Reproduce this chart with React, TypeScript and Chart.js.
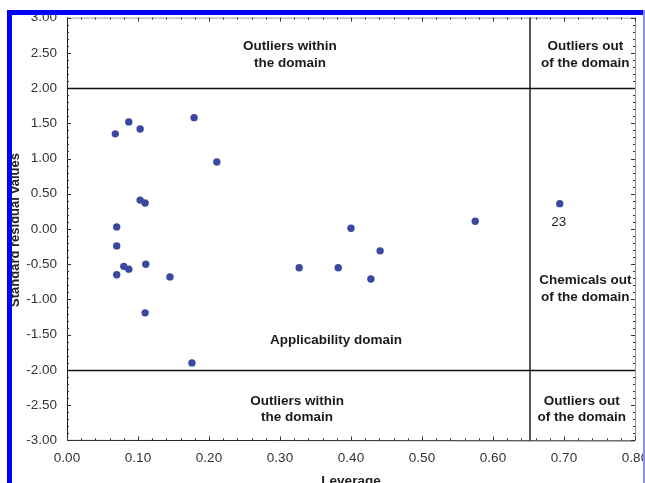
import React, { useEffect, useRef } from "react";
import { Chart, registerables } from "chart.js";

Chart.register(...registerables);

// Leverage (x) and standardized residual (y) for each chemical
const leverage = [
  0.068, 0.087, 0.103, 0.179, 0.211, 0.103, 0.110, 0.070, 0.070, 0.080, 0.087, 0.111,
  0.070, 0.145, 0.110, 0.176, 0.327, 0.382, 0.400, 0.441, 0.428, 0.575, 0.694,
];
const residuals = [
  1.35, 1.52, 1.42, 1.58, 0.95, 0.41, 0.37, 0.03, -0.24, -0.53, -0.57, -0.50,
  -0.65, -0.68, -1.19, -1.90, -0.55, -0.55, 0.01, -0.31, -0.71, 0.11, 0.36,
];
const pointLabels = ["", "", "", "", "", "", "", "", "", "", "", "", "", "", "", "", "", "", "", "", "", "", "23"];

const xTicks = [0, 0.1, 0.2, 0.3, 0.4, 0.5, 0.6, 0.7, 0.8];
const yTicks = [-3, -2.5, -2, -1.5, -1, -0.5, 0, 0.5, 1, 1.5, 2, 2.5, 3];

const warningLeverage = 0.65;
const residualLimits = [-2, 2];

const regionLabels = [
  { lines: ["Outliers within", "the domain"], x: 0.314, y: 2.47 },
  { lines: ["Outliers out", "of the domain"], x: 0.73, y: 2.47 },
  { lines: ["Chemicals out", "of the domain"], x: 0.73, y: -0.85 },
  { lines: ["Applicability domain"], x: 0.379, y: -1.58 },
  { lines: ["Outliers within", "the domain"], x: 0.324, y: -2.56 },
  { lines: ["Outliers out", "of the domain"], x: 0.725, y: -2.56 },
];

const xTitle = "Leverage";
const yTitle = "Standard residual values";

const FONT = "'Liberation Sans', Arial, sans-serif";

const overlayPlugin = {
  id: "overlay",
  afterDatasetsDraw(chart: any) {
    const { ctx, chartArea: a, scales } = chart;
    const xs = scales.x;
    const ys = scales.y;
    ctx.save();

    // frame: top and right lighter
    ctx.strokeStyle = "#999";
    ctx.lineWidth = 1;
    ctx.beginPath();
    ctx.moveTo(a.left, a.top + 0.5);
    ctx.lineTo(a.right, a.top + 0.5);
    ctx.moveTo(a.right + 0.5, a.top);
    ctx.lineTo(a.right + 0.5, a.bottom);
    ctx.stroke();

    ctx.strokeStyle = "#222";
    ctx.beginPath();
    ctx.moveTo(a.left + 0.5, a.top);
    ctx.lineTo(a.left + 0.5, a.bottom);
    ctx.lineTo(a.right, a.bottom + 0.5);
    ctx.stroke();

    // ticks (inward)
    ctx.strokeStyle = "#333";
    ctx.beginPath();
    for (let i = 0; i <= 40; i++) {
      const v = i * 0.02;
      const px = Math.round(xs.getPixelForValue(v)) + 0.5;
      const len = i % 5 === 0 ? 4 : 2;
      ctx.moveTo(px, a.bottom);
      ctx.lineTo(px, a.bottom - len);
      ctx.moveTo(px, a.top);
      ctx.lineTo(px, a.top + len);
    }
    for (let i = 0; i <= 60; i++) {
      const v = -3 + i * 0.1;
      const py = Math.round(ys.getPixelForValue(v)) + 0.5;
      const len = i % 5 === 0 ? 4 : 2;
      ctx.moveTo(a.left, py);
      ctx.lineTo(a.left + len, py);
      ctx.moveTo(a.right, py);
      ctx.lineTo(a.right - len, py);
    }
    ctx.stroke();

    // domain lines
    ctx.strokeStyle = "#111";
    ctx.lineWidth = 1.4;
    ctx.beginPath();
    for (const lim of residualLimits) {
      const py = Math.round(ys.getPixelForValue(lim)) + 0.5;
      ctx.moveTo(a.left, py);
      ctx.lineTo(a.right, py);
    }
    const vx = Math.round(xs.getPixelForValue(warningLeverage)) + 1;
    ctx.moveTo(vx, a.top);
    ctx.lineTo(vx, a.bottom);
    ctx.stroke();

    // region labels
    ctx.fillStyle = "#1a1a1a";
    ctx.font = `bold 13.5px ${FONT}`;
    ctx.textAlign = "center";
    ctx.textBaseline = "middle";
    for (const r of regionLabels) {
      const cx = xs.getPixelForValue(r.x);
      const cy = ys.getPixelForValue(r.y);
      const n = r.lines.length;
      r.lines.forEach((t, i) => {
        ctx.fillText(t, cx, cy + (i - (n - 1) / 2) * 16.5);
      });
    }

    // point labels
    ctx.font = `13.5px ${FONT}`;
    ctx.fillStyle = "#222";
    pointLabels.forEach((lab, i) => {
      if (!lab) return;
      const px = xs.getPixelForValue(leverage[i]);
      const py = ys.getPixelForValue(residuals[i]);
      ctx.fillText(lab, px - 1, py + 19);
    });

    // axis titles
    ctx.font = `bold 13.5px ${FONT}`;
    ctx.textBaseline = "top";
    ctx.fillText(xTitle, (a.left + a.right) / 2, 475);
    ctx.save();
    ctx.translate(9, (a.top + a.bottom) / 2 + 1);
    ctx.rotate(-Math.PI / 2);
    ctx.textBaseline = "top";
    ctx.font = `bold 13px ${FONT}`;
    ctx.fillText(yTitle, 0, 0);
    ctx.restore();

    // blue frame of the figure
    ctx.fillStyle = "#0000ff";
    ctx.fillRect(7, 10, 638, 5);
    ctx.fillRect(7, 10, 5, 473);
    ctx.fillStyle = "#8a8cf0";
    ctx.fillRect(643, 10, 2, 473);

    ctx.restore();
  },
};

export default function App() {
  const ref = useRef<HTMLCanvasElement>(null);

  useEffect(() => {
    document.body.style.margin = "0";
    const canvas = ref.current!;
    const chart = new Chart(canvas, {
      type: "scatter",
      data: {
        datasets: [
          {
            data: leverage.map((x, i) => ({ x, y: residuals[i] })),
            backgroundColor: "#3a48a0",
            borderWidth: 0,
            pointRadius: 3.7,
          },
        ],
      },
      options: {
        responsive: false,
        animation: false,
        devicePixelRatio: 1,
        layout: { padding: { left: 0, right: 10, top: 17.6, bottom: 0 } },
        plugins: { legend: { display: false }, tooltip: { enabled: false } },
        scales: {
          x: {
            type: "linear",
            min: 0,
            max: 0.8,
            grid: { display: false },
            border: { display: false },
            afterBuildTicks: (s: any) => {
              s.ticks = xTicks.map((v) => ({ value: v }));
            },
            afterFit: (s: any) => {
              s.height = 42.6;
              s.paddingLeft = 0;
              s.paddingRight = 0;
            },
            ticks: {
              color: "#333",
              padding: 2,
              maxRotation: 0,
              font: { family: FONT, size: 13.5 },
              callback: (v: any) => Number(v).toFixed(2),
            },
          },
          y: {
            type: "linear",
            min: -3,
            max: 3,
            grid: { display: false },
            border: { display: false },
            afterBuildTicks: (s: any) => {
              s.ticks = yTicks.map((v) => ({ value: v }));
            },
            afterFit: (s: any) => {
              s.width = 67;
              s.paddingTop = 0;
              s.paddingBottom = 0;
            },
            ticks: {
              color: "#333",
              padding: 2,
              font: { family: FONT, size: 13.5 },
              callback: (v: any) => Number(v).toFixed(2),
            },
          },
        },
      },
      plugins: [overlayPlugin],
    });
    return () => chart.destroy();
  }, []);

  return (
    <div style={{ position: "absolute", left: 0, top: 0, width: 645, height: 483, background: "#fff" }}>
      <canvas ref={ref} width={645} height={483} style={{ display: "block", width: 645, height: 483 }} />
    </div>
  );
}
